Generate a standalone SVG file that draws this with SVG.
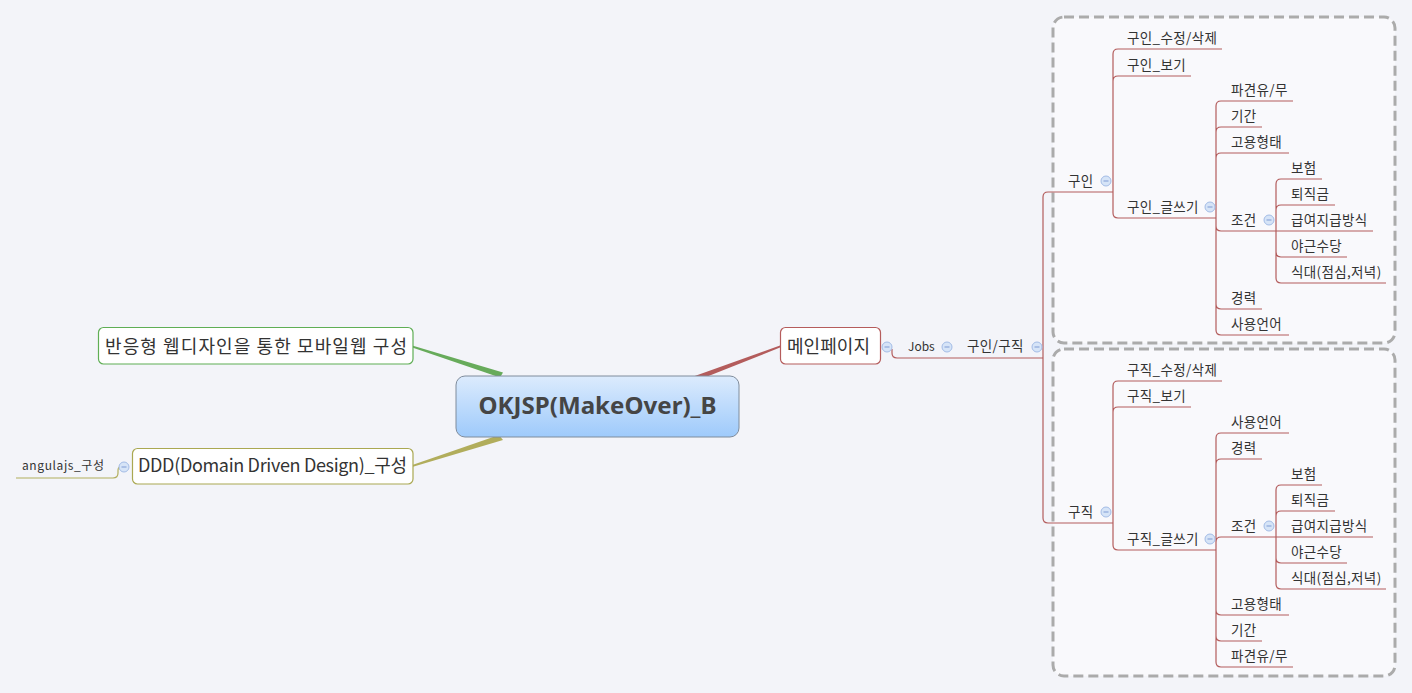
<svg xmlns="http://www.w3.org/2000/svg" xmlns:xlink="http://www.w3.org/1999/xlink" width="1412" height="693" viewBox="0 0 1412 693">
<style>
.t{font-family:"Noto Sans CJK KR","Noto Sans",sans-serif;font-size:13.5px;letter-spacing:0.35px;fill:#333}
.s12{font-size:12px;letter-spacing:0}
.big{font-size:18px;fill:#333;letter-spacing:0}
.br{fill:none;stroke:#b35c5c;stroke-width:1.2}
.box{fill:#fff;stroke-width:1.2}
.bound{fill:#f9f9fc;stroke:#ababab;stroke-width:3;stroke-dasharray:10 5}
</style>
<defs>
<linearGradient id="cg" x1="0" y1="0" x2="0" y2="1">
<stop offset="0" stop-color="#dcebfd"/>
<stop offset="1" stop-color="#9ecafb"/>
</linearGradient>
<g id="btn"><circle r="5" fill="#d6e4f7" stroke="#a3bce6" stroke-width="1"/><line x1="-2.5" y1="0" x2="2.5" y2="0" stroke="#7e9bd4" stroke-width="1"/></g>
</defs>
<rect width="1412" height="693" fill="#f3f4f9"/>
<rect class="bound" x="1053" y="17" width="342" height="326" rx="11"/>
<rect class="bound" x="1053" y="349" width="342" height="327" rx="11"/>
<g id="connectors">
<polygon points="413,345.8 413,347.8 500,377.5 503,372.5" fill="#67ab5b"/>
<polygon points="413,464.8 413,466.8 503,440 499,435" fill="#b1ad5c"/>
<polygon points="780,345.5 780,347.5 706,377 692,377" fill="#b35c5c"/>
<path d="M16,478 H113 Q118,478 118,473 V471 Q118,467 120,467" fill="none" stroke="#b1ad5c" stroke-width="1.2"/>
<path class="br" d="M892,349 V353 Q892,358 897,358 H1043"/>
<path class="br" d="M1043,197 V518 M1043,197 Q1043,192 1048,192 H1113 M1043,518 Q1043,523 1048,523 H1113"/>
<path class="br" d="M1113,54 V213 M1113,54 Q1113,49 1118,49 H1222 M1113,81 Q1113,76 1118,76 H1191 M1113,213 Q1113,218 1118,218 H1216"/>
<path class="br" d="M1216,106 V330 M1216,106 Q1216,101 1221,101 H1293 M1216,132 Q1216,127 1221,127 H1262 M1216,158 Q1216,153 1221,153 H1289 M1216,226 Q1216,231 1221,231 H1373 M1216,304 Q1216,309 1221,309 H1262 M1216,330 Q1216,335 1221,335 H1289"/>
<path class="br" d="M1276,184 V278 M1276,184 Q1276,179 1281,179 H1322 M1276,210 Q1276,205 1281,205 H1335 M1276,252 Q1276,257 1281,257 H1347 M1276,278 Q1276,283 1281,283 H1386"/>
<path class="br" d="M1113,386 V545 M1113,386 Q1113,381 1118,381 H1222 M1113,412 Q1113,407 1118,407 H1191 M1113,545 Q1113,550 1118,550 H1216"/>
<path class="br" d="M1216,438 V662 M1216,438 Q1216,433 1221,433 H1289 M1216,464 Q1216,459 1221,459 H1262 M1216,542 Q1216,537 1221,537 H1373 M1216,610 Q1216,615 1221,615 H1289 M1216,636 Q1216,641 1221,641 H1262 M1216,662 Q1216,667 1221,667 H1293"/>
<path class="br" d="M1276,490 V584 M1276,490 Q1276,485 1281,485 H1322 M1276,516 Q1276,511 1281,511 H1335 M1276,558 Q1276,563 1281,563 H1347 M1276,584 Q1276,589 1281,589 H1386"/>
</g>
<g id="center">
<rect x="456" y="376" width="283" height="61" rx="9" fill="url(#cg)" stroke="#7f8c9c" stroke-width="1"/>
<text x="597.5" y="414" text-anchor="middle" font-family="'Noto Sans','Open Sans',sans-serif" font-weight="bold" font-size="23" fill="#454545" textLength="238" lengthAdjust="spacingAndGlyphs">OKJSP(MakeOver)_B</text>
</g>
<g id="mobile">
<rect class="box" x="98.5" y="327.5" width="314.5" height="36.5" rx="5" stroke="#5fae55"/>
<text class="t big" x="105" y="353" textLength="302" lengthAdjust="spacing">반응형 웹디자인을 통한 모바일웹 구성</text>
</g>
<g id="ddd">
<rect class="box" x="132.5" y="448.5" width="280.5" height="35.5" rx="5" stroke="#aaa852"/>
<text class="t big" x="138" y="472" textLength="269" lengthAdjust="spacing">DDD(Domain Driven Design)_구성</text>
<use xlink:href="#btn" x="124" y="467"/>
</g>
<g id="angularjs"><text class="t s12" x="22" y="470" textLength="82" lengthAdjust="spacing">angulajs_구성</text></g>
<g id="main">
<rect class="box" x="780.5" y="327.5" width="100" height="36.5" rx="5" stroke="#b55c5c"/>
<text class="t big" x="787" y="353" textLength="83" lengthAdjust="spacing">메인페이지</text>
<use xlink:href="#btn" x="887" y="347"/>
</g>
<g id="jobs"><text class="t s12" x="908" y="351">Jobs</text><use xlink:href="#btn" x="947" y="347"/></g>
<g id="guin-gujik"><text class="t" x="967" y="351">구인/구직</text><use xlink:href="#btn" x="1037" y="347"/></g>
<g id="guin"><text class="t" x="1068" y="186">구인</text><use xlink:href="#btn" x="1106" y="181"/></g>
<g id="guin-edit"><text class="t" x="1127" y="43">구인_수정/삭제</text></g>
<g id="guin-view"><text class="t" x="1127" y="70">구인_보기</text></g>
<g id="guin-write"><text class="t" x="1127" y="212">구인_글쓰기</text><use xlink:href="#btn" x="1210" y="207"/></g>
<g id="guin-dispatch"><text class="t" x="1231" y="95">파견유/무</text></g>
<g id="guin-period"><text class="t" x="1231" y="121">기간</text></g>
<g id="guin-type"><text class="t" x="1231" y="147">고용형태</text></g>
<g id="guin-cond"><text class="t" x="1231" y="225">조건</text><use xlink:href="#btn" x="1269" y="220"/></g>
<g id="guin-career"><text class="t" x="1231" y="303">경력</text></g>
<g id="guin-lang"><text class="t" x="1231" y="329">사용언어</text></g>
<g id="guin-ins"><text class="t" x="1291" y="173">보험</text></g>
<g id="guin-sev"><text class="t" x="1291" y="199">퇴직금</text></g>
<g id="guin-pay"><text class="t" x="1291" y="225">급여지급방식</text></g>
<g id="guin-ot"><text class="t" x="1291" y="251">야근수당</text></g>
<g id="guin-meal"><text class="t" x="1291" y="277">식대(점심,저녁)</text></g>
<g id="gujik"><text class="t" x="1068" y="517">구직</text><use xlink:href="#btn" x="1106" y="512"/></g>
<g id="gujik-edit"><text class="t" x="1127" y="375">구직_수정/삭제</text></g>
<g id="gujik-view"><text class="t" x="1127" y="401">구직_보기</text></g>
<g id="gujik-write"><text class="t" x="1127" y="544">구직_글쓰기</text><use xlink:href="#btn" x="1210" y="539"/></g>
<g id="gujik-lang"><text class="t" x="1231" y="427">사용언어</text></g>
<g id="gujik-career"><text class="t" x="1231" y="453">경력</text></g>
<g id="gujik-cond"><text class="t" x="1231" y="531">조건</text><use xlink:href="#btn" x="1269" y="526"/></g>
<g id="gujik-type"><text class="t" x="1231" y="609">고용형태</text></g>
<g id="gujik-period"><text class="t" x="1231" y="635">기간</text></g>
<g id="gujik-dispatch"><text class="t" x="1231" y="661">파견유/무</text></g>
<g id="gujik-ins"><text class="t" x="1291" y="479">보험</text></g>
<g id="gujik-sev"><text class="t" x="1291" y="505">퇴직금</text></g>
<g id="gujik-pay"><text class="t" x="1291" y="531">급여지급방식</text></g>
<g id="gujik-ot"><text class="t" x="1291" y="557">야근수당</text></g>
<g id="gujik-meal"><text class="t" x="1291" y="583">식대(점심,저녁)</text></g>
</svg>
